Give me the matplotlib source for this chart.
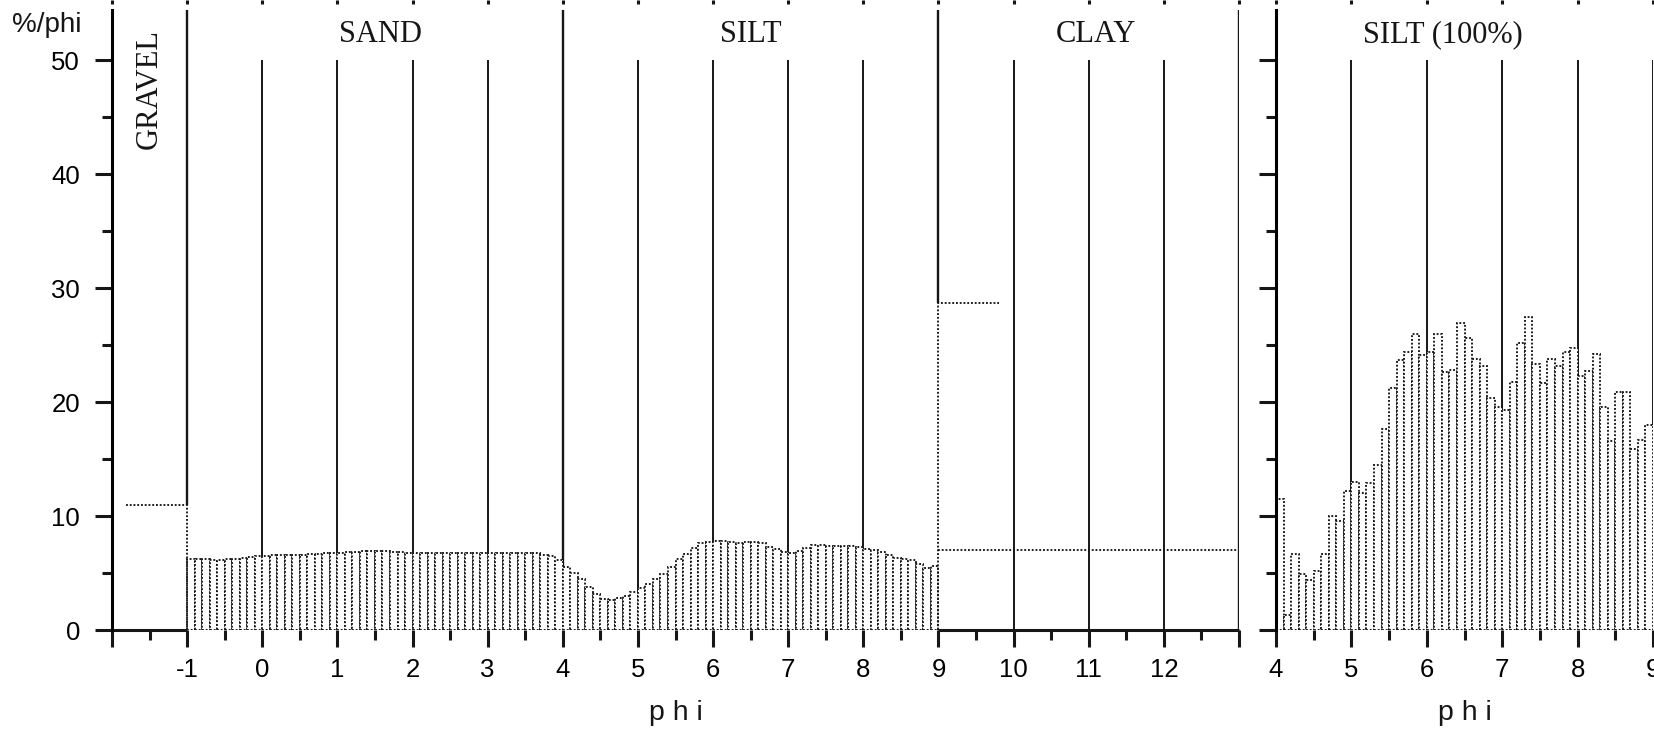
import numpy as np
import matplotlib
matplotlib.use("Agg")
import matplotlib.pyplot as plt
from matplotlib.ticker import FixedLocator

plt.rcParams['font.family'] = ['Liberation Sans', 'DejaVu Sans']
SERIF = ['Liberation Serif', 'DejaVu Serif']

# ---- data ----
bin_width = 0.1

# sand + silt histogram, 0.1 phi bins starting at -1 phi (%/phi)
sand_silt_start = -1.0
sand_silt_pct = [
    6.2, 6.2, 6.2, 6.15, 6.15, 6.2, 6.2, 6.3, 6.4, 6.45,
    6.5, 6.55, 6.55, 6.6, 6.6, 6.6, 6.65, 6.7, 6.75, 6.8,
    6.8, 6.85, 6.85, 6.9, 6.9, 6.9, 6.9, 6.85, 6.85, 6.8,
    6.8, 6.8, 6.8, 6.75, 6.8, 6.8, 6.8, 6.8, 6.8, 6.8,
    6.8, 6.8, 6.8, 6.8, 6.8, 6.8, 6.75, 6.6, 6.45, 6.1,
    5.5, 5.0, 4.5, 3.8, 3.2, 2.7, 2.6, 2.8, 3.0, 3.3,
    3.7, 4.0, 4.5, 4.9, 5.5, 6.2, 6.7, 7.2, 7.6, 7.75,
    7.8, 7.8, 7.7, 7.65, 7.7, 7.75, 7.6, 7.3, 7.1, 6.85,
    6.75, 6.9, 7.2, 7.45, 7.45, 7.35, 7.35, 7.4, 7.35, 7.25,
    7.15, 7.0, 6.85, 6.55, 6.3, 6.2, 6.15, 5.75, 5.4, 5.6,
]

# silt-only histogram (silt = 100%), 0.1 phi bins from 4 phi
silt_start = 4.0
silt_pct = [
    11.5, 1.3, 6.7, 4.9, 4.4, 5.2, 6.7, 10.0, 9.6, 12.2,
    13.0, 12.0, 12.9, 14.5, 17.6, 21.2, 23.7, 24.4, 26.0, 24.1,
    24.4, 26.0, 22.6, 22.8, 26.9, 25.6, 23.8, 23.2, 20.4, 19.6,
    19.3, 21.8, 25.2, 27.5, 23.3, 21.7, 23.8, 23.2, 24.4, 24.7,
    22.3, 22.7, 24.2, 19.6, 16.6, 20.9, 20.9, 15.9, 16.7, 18.0,
]

gravel_phi = [-1.81, -1.0]
gravel_pct = 11.0
clay_first_phi = [9.0, 9.81]
clay_first_pct = 28.7
clay_phi = [9.0, 13.0]
clay_pct = 7.0

class_bounds = [-1, 4, 9, 13]
class_labels = ['GRAVEL', 'SAND', 'SILT', 'CLAY']
class_label_x = [-1.5, 1.58, 6.5, 11.09]

Y_TOP = 54.4
DOT = (0, (1, 1))
INK = '#161616'

fig = plt.figure(figsize=(16.54, 7.31), dpi=100)
W, H = 1654.0, 731.0
y_bot = (H - 630) / H
y_h = 620 / H
ax = fig.add_axes([112 / W, y_bot, (1239 - 112) / W, y_h])
ax2 = fig.add_axes([1276 / W, y_bot, (1653 - 1276) / W, y_h])


def style_axes(a, xlo, xhi, major_x, labels):
    a.set_xlim(xlo, xhi)
    a.set_ylim(0, Y_TOP)
    for s in ['top', 'right', 'bottom']:
        a.spines[s].set_visible(False)
    a.spines['left'].set_linewidth(2.2)
    a.spines['left'].set_zorder(5)
    a.xaxis.set_major_locator(FixedLocator(major_x))
    a.xaxis.set_minor_locator(FixedLocator([v + 0.5 for v in major_x[:-1]]))
    a.set_xticklabels(labels)
    a.yaxis.set_major_locator(FixedLocator([0, 10, 20, 30, 40, 50]))
    a.yaxis.set_minor_locator(FixedLocator([5, 15, 25, 35, 45]))
    a.tick_params(which='major', length=12, width=2.2, color=INK, labelsize=18.5)
    a.tick_params(which='minor', length=7, width=2.2, color=INK)
    a.tick_params(axis='x', pad=8)
    a.tick_params(axis='y', pad=11)
    top = a.secondary_xaxis(1.0 + 6 / 620)
    top.set_xticks(major_x)
    top.tick_params(length=3, width=2.2, color=INK, labeltop=False)
    top.spines['top'].set_visible(False)
    a.text(0.5, -0.145, 'p h i', transform=a.transAxes, ha='center',
           va='baseline', fontsize=20.5, color=INK)


# ---- left panel ----
xs = sand_silt_start + bin_width * np.arange(len(sand_silt_pct))
ax.bar(xs, sand_silt_pct, width=bin_width, align='edge', facecolor='white',
       edgecolor=INK, linewidth=1.35, linestyle=DOT, zorder=3)

ax.plot([gravel_phi[0], gravel_phi[1], gravel_phi[1]], [gravel_pct, gravel_pct, 0],
        color=INK, lw=1.35, ls=DOT, zorder=3)
ax.plot([clay_first_phi[0], clay_first_phi[0], clay_first_phi[1]],
        [0, clay_first_pct, clay_first_pct], color=INK, lw=1.35, ls=DOT, zorder=3)
ax.plot(clay_phi, [clay_pct, clay_pct], color=INK, lw=1.35, ls=DOT, zorder=3)

# grid of whole-phi lines (stop at 50), class boundaries run full height
inner = [v for v in range(0, 13) if v not in class_bounds]
ax.vlines(inner, 0, 50, color=INK, lw=1.4, zorder=2)
bound_bottom = [gravel_pct, 0, clay_first_pct, 0]
ax.vlines(class_bounds, bound_bottom, Y_TOP, color=INK, lw=1.7, zorder=2)

# solid axis line only where no bar covers it
ax.hlines(0, -2, -1, color=INK, lw=2.2, zorder=4, clip_on=False)
ax.hlines(0, 9, 13, color=INK, lw=2.2, zorder=4, clip_on=False)

style_axes(ax, -2, 13, list(range(-2, 14)),
           [''] + [str(v) for v in range(-1, 13)] + [''])

for lab, lx in zip(class_labels, class_label_x):
    if lab == 'GRAVEL':
        ax.text(lx, 47.5, lab, rotation=90, ha='center', va='center',
                fontsize=22, family=SERIF, color=INK)
    else:
        ax.text(lx, 51.6, lab, ha='center', va='baseline', fontsize=22,
                family=SERIF, color=INK)

fig.text(12 / W, (H - 32) / H, '%/phi', fontsize=20, va='baseline', color=INK)

# ---- right panel ----
xs2 = silt_start + bin_width * np.arange(len(silt_pct))
ax2.bar(xs2, silt_pct, width=bin_width, align='edge', facecolor='white',
        edgecolor=INK, linewidth=1.35, linestyle=DOT, zorder=3)
ax2.vlines([5, 6, 7, 8, 9], 0, 50, color=INK, lw=1.4, zorder=2)
style_axes(ax2, 4, 9, [4, 5, 6, 7, 8, 9], ['4', '5', '6', '7', '8', '9'])
ax2.set_yticklabels([])
ax2.text(6.21, 51.6, 'SILT (100%)', ha='center', va='baseline', fontsize=22,
         family=SERIF, color=INK)

fig.savefig('out.png', dpi=100)
